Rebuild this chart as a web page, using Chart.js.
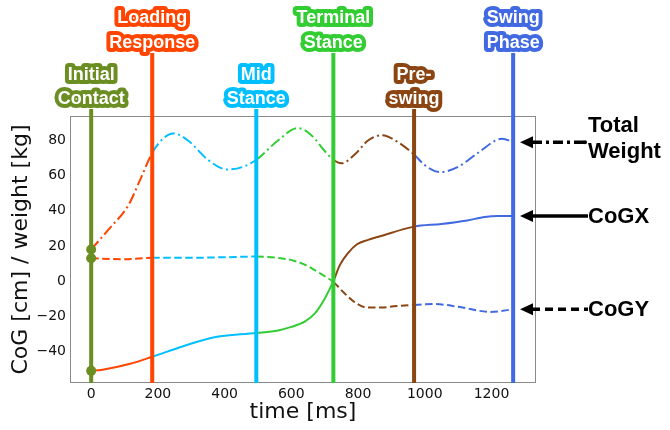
<!DOCTYPE html>
<html lang="en">

<head>
  <meta charset="UTF-8" />
  <title>CoG over gait cycle</title>
  <script src="https://cdn.jsdelivr.net/npm/chart.js"></script>
  <style>
    * {
      margin: 0;
      padding: 0
    }

    body {
      background: #fff;
      width: 670px;
      height: 430px;
      overflow: hidden
    }

    canvas {
      display: block
    }
  </style>
</head>

<body>
  <canvas id="grafico" width="670" height="430"></canvas>
  <script>
    // gait phases (start times in ms)
    const phaseNames = [['Initial', 'Contact'], ['Loading', 'Response'], ['Mid', 'Stance'], ['Terminal', 'Stance'], ['Pre-', 'swing'], ['Swing', 'Phase']];
    const phaseTimes = [0, 183, 495, 726, 968, 1265];
    const phaseColors = ['#6b8e23', '#ff4500', '#00bfff', '#32cd32', '#8b4513', '#4169e1'];

    // series
    const weightT = [0, 55, 111, 150, 183, 215, 246, 290, 350, 408, 455, 495, 560, 620, 660, 700, 726, 750, 790, 830, 872, 920, 968, 1000, 1046, 1100, 1160, 1232, 1265];
    const weightV = [18, 30, 43, 59, 73, 81, 84, 80, 69, 63.5, 65, 69, 80, 87, 83, 74, 69, 67, 72, 80, 83, 79, 72, 66, 62, 65, 73, 81, 79];

    const cogxT = [0, 30, 117, 183, 276, 366, 495, 560, 600, 640, 670, 700, 726, 745, 770, 797, 830, 866, 968, 1050, 1127, 1180, 1220, 1265];
    const cogxV = [-51, -50.5, -47, -43, -37, -32, -29.5, -28, -26, -23, -18.5, -10, 0, 9, 16, 21, 23.5, 25.5, 31, 32.5, 34.5, 36.5, 37, 37];

    const cogyT = [0, 100, 183, 300, 400, 495, 560, 610, 650, 690, 726, 760, 790, 827, 870, 906, 968, 1026, 1100, 1197, 1265];
    const cogyV = [13, 12.5, 13.3, 13.3, 13.6, 14, 13.2, 11.5, 8.5, 4, -0.5, -7, -12, -15, -15, -14.3, -13.5, -13, -14.5, -17.5, -16];

    const seriesNames = [['Total', 'Weight'], ['CoGX'], ['CoGY']];
    const yTicks = [-40, -20, 0, 20, 40, 60, 80];
    const xTicks = [0, 200, 400, 600, 800, 1000, 1200];

    const dashDot = [11, 3.5, 2, 3.5];
    const dashed = [7.5, 3.5];

    function phaseColor(t) {
      for (let i = 1; i < phaseTimes.length; i++) if (t < phaseTimes[i]) return phaseColors[i];
      return phaseColors[phaseColors.length - 1];
    }
    function pts(ts, vs) { return ts.map((t, i) => ({ x: t, y: vs[i] })) }
    function mkSet(label, ts, vs, dash) {
      return {
        label, data: pts(ts, vs), borderWidth: 2, borderDash: dash, pointRadius: 0,
        cubicInterpolationMode: 'monotone', fill: false,
        segment: { borderColor: c => phaseColor(c.p0.parsed.x) }
      };
    }

    const decor = {
      id: 'decor',
      afterDatasetsDraw(chart) {
        const { ctx, chartArea: a, scales: { x, y } } = chart;
        ctx.save();
        // frame
        ctx.strokeStyle = '#8a8a8a';
        ctx.lineWidth = 1;
        ctx.strokeRect(a.left + 0.5, a.top + 0.5, a.right - a.left - 1, a.bottom - a.top - 1);

        // phase lines + labels
        phaseTimes.forEach((t, i) => {
          const px = x.getPixelForValue(t);
          const high = i % 2 === 1;
          const ly = high ? [18, 43] : [75, 99];
          ctx.strokeStyle = phaseColors[i];
          ctx.lineWidth = 4;
          ctx.beginPath();
          ctx.moveTo(px, ly[1] + 10);
          ctx.lineTo(px, a.bottom);
          ctx.stroke();
          ctx.font = 'bold 18px "Liberation Sans", Arial, sans-serif';
          ctx.textAlign = 'center';
          ctx.textBaseline = 'middle';
          ctx.lineJoin = 'round';
          phaseNames[i].forEach((s, k) => {
            ctx.lineWidth = 8;
            ctx.strokeStyle = phaseColors[i];
            ctx.strokeText(s, px, ly[k]);
            ctx.fillStyle = '#fff';
            ctx.fillText(s, px, ly[k]);
          });
        });

        // initial contact dots
        ctx.fillStyle = phaseColors[0];
        [weightV[0], cogyV[0], cogxV[0]].forEach(v => {
          ctx.beginPath();
          ctx.arc(x.getPixelForValue(phaseTimes[0]), y.getPixelForValue(v), 5, 0, Math.PI * 2);
          ctx.fill();
        });

        // legend arrows at end of each series
        const ends = [weightV[weightV.length - 1], cogxV[cogxV.length - 1], cogyV[cogyV.length - 1]];
        const dashes = [[10, 4, 3, 4], [], [8, 5]];
        ends.forEach((v, i) => {
          const py = y.getPixelForValue(v);
          const tip = a.right - 16;
          ctx.fillStyle = '#000';
          ctx.beginPath();
          ctx.moveTo(tip, py);
          ctx.lineTo(tip + 13, py - 6);
          ctx.lineTo(tip + 13, py + 6);
          ctx.closePath();
          ctx.fill();
          ctx.strokeStyle = '#000';
          ctx.lineWidth = 3.5;
          ctx.setLineDash(dashes[i]);
          ctx.beginPath();
          ctx.moveTo(tip + 12, py);
          ctx.lineTo(tip + (i === 0 ? 64 : 68), py);
          ctx.stroke();
          ctx.setLineDash([]);
          if (i === 0) {
            ctx.beginPath();
            ctx.arc(tip + 65, py, 2, 0, Math.PI * 2);
            ctx.fill();
          }
          ctx.font = 'bold 22px "Liberation Sans", Arial, sans-serif';
          ctx.textAlign = 'left';
          ctx.textBaseline = 'middle';
          const names = seriesNames[i];
          const x0 = a.right + 52;
          if (names.length === 2) {
            ctx.fillText(names[0], x0, py - 16);
            ctx.fillText(names[1], x0, py + 10);
          } else {
            ctx.fillText(names[0], x0, py + 1);
          }
        });
        ctx.restore();
      }
    };

    const tickFont = { family: 'DejaVu Sans', size: 14 };
    const titleFont = { family: 'DejaVu Sans', size: 22 };

    new Chart(document.getElementById('grafico'), {
      type: 'line',
      data: {
        datasets: [
          mkSet('Total Weight', weightT, weightV, dashDot),
          mkSet('CoGX', cogxT, cogxV, []),
          mkSet('CoGY', cogyT, cogyV, dashed)
        ]
      },
      options: {
        responsive: false,
        animation: false,
        layout: { padding: { top: 116, right: 134, left: 0, bottom: 0 } },
        plugins: { legend: { display: false }, tooltip: { enabled: false } },
        scales: {
          x: {
            type: 'linear', min: -63.5, max: 1333.5,
            grid: { display: false, drawTicks: false, tickLength: 0 }, border: { display: false },
            afterBuildTicks: s => { s.ticks = xTicks.map(v => ({ value: v })) },
            afterFit: s => { s.height = 47 },
            ticks: { font: tickFont, color: '#111', padding: 3, maxRotation: 0, callback: v => String(v) },
            title: { display: true, text: 'time [ms]', font: titleFont, color: '#111', padding: { top: 0, bottom: 5 } }
          },
          y: {
            min: -57.9, max: 93.9,
            grid: { display: false, drawTicks: false, tickLength: 0 }, border: { display: false },
            afterBuildTicks: s => { s.ticks = yTicks.map(v => ({ value: v })) },
            afterFit: s => { s.width = 70 },
            ticks: { font: tickFont, color: '#111', padding: 4, callback: v => String(v).replace('-', '\u2212') },
            title: { display: true, text: 'CoG [cm] / weight [kg]', font: titleFont, color: '#111', padding: { top: 8, bottom: 0 } }
          }
        }
      },
      plugins: [decor]
    });
  </script>
</body>

</html>
